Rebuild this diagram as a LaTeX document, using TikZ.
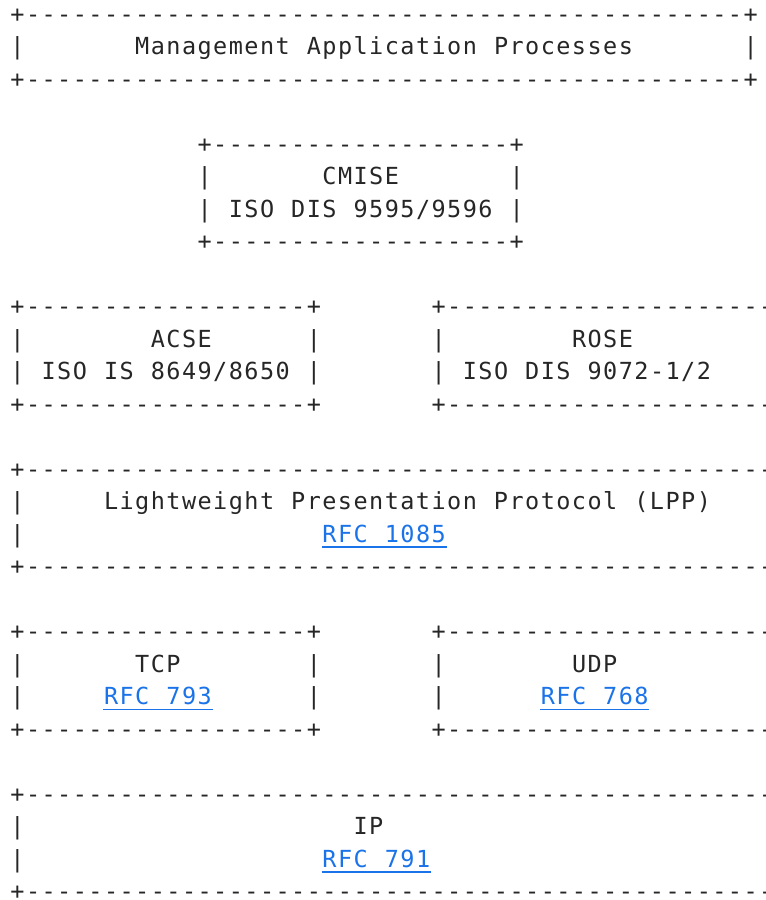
\documentclass[tikz,border=0pt]{standalone}
\usepackage{fontspec}
\setmonofont{DejaVu Sans Mono}
\usepackage{tikz}

\definecolor{ink}{HTML}{262626}
\definecolor{linkblue}{HTML}{1A73E8}
\newlength\cellwd
\setlength\cellwd{15.6pt}
\newcommand\asciifont{\ttfamily\fontsize{23.5pt}{24pt}\selectfont}
% one character per fixed cell
\ExplSyntaxOn
\cs_new:Npn \dashrun #1 { \prg_replicate:nn {#1} {-} }
\cs_new_protected:Npn \gridtext #1
  {
    \str_set:Nx \l_tmpa_str {#1}
    \str_map_inline:Nn \l_tmpa_str
      { \hbox_to_wd:nn { \cellwd } { \hss ##1 \hss } }
  }
\ExplSyntaxOff

\begin{document}
\begin{tikzpicture}[x=15.6pt, y=-32.5pt,
	ascii/.style={anchor=base west, inner sep=0pt, outer sep=0pt, text=ink, font=\asciifont},
	link/.style={ascii, text=linkblue},
	uline/.style={draw=linkblue, line width=1.3pt}]
	\useasboundingbox (-0.622,-0.677) rectangle (48.417,27.015);
	\clip (-0.622,-0.677) rectangle (48.417,27.015);
	
	% boxes
	\node[ascii] (mapTop) at (0,0) {\gridtext{+\dashrun{46}+}};
	\node[ascii] (mapBot) at (0,2) {\gridtext{+\dashrun{46}+}};
	\node[ascii] (mapL) at (0,1) {\gridtext{|}};
	\node[ascii] (mapR) at (47,1) {\gridtext{|}};
	
	\node[ascii] (cmiseTop) at (12,4) {\gridtext{+\dashrun{19}+}};
	\node[ascii] (cmiseBot) at (12,7) {\gridtext{+\dashrun{19}+}};
	\foreach \r in {5,6} {
		\node[ascii] (cmiseL\r) at (12,\r) {\gridtext{|}};
		\node[ascii] (cmiseR\r) at (32,\r) {\gridtext{|}};
	}
	
	\node[ascii] (acseTop) at (0,9) {\gridtext{+\dashrun{18}+}};
	\node[ascii] (acseBot) at (0,12) {\gridtext{+\dashrun{18}+}};
	\node[ascii] (roseTop) at (27,9) {\gridtext{+\dashrun{25}}};
	\node[ascii] (roseBot) at (27,12) {\gridtext{+\dashrun{25}}};
	\foreach \r in {10,11} {
		\node[ascii] (acseL\r) at (0,\r) {\gridtext{|}};
		\node[ascii] (acseR\r) at (19,\r) {\gridtext{|}};
		\node[ascii] (roseL\r) at (27,\r) {\gridtext{|}};
	}
	
	\node[ascii] (lppTop) at (0,14) {\gridtext{+\dashrun{50}}};
	\node[ascii] (lppBot) at (0,17) {\gridtext{+\dashrun{50}}};
	\foreach \r in {15,16}
		\node[ascii] (lppL\r) at (0,\r) {\gridtext{|}};
	
	\node[ascii] (tcpTop) at (0,19) {\gridtext{+\dashrun{18}+}};
	\node[ascii] (tcpBot) at (0,22) {\gridtext{+\dashrun{18}+}};
	\node[ascii] (udpTop) at (27,19) {\gridtext{+\dashrun{25}}};
	\node[ascii] (udpBot) at (27,22) {\gridtext{+\dashrun{25}}};
	\foreach \r in {20,21} {
		\node[ascii] (tcpL\r) at (0,\r) {\gridtext{|}};
		\node[ascii] (tcpR\r) at (19,\r) {\gridtext{|}};
		\node[ascii] (udpL\r) at (27,\r) {\gridtext{|}};
	}
	
	\node[ascii] (ipTop) at (0,24) {\gridtext{+\dashrun{50}}};
	\node[ascii] (ipBot) at (0,27) {\gridtext{+\dashrun{50}}};
	\foreach \r in {25,26}
		\node[ascii] (ipL\r) at (0,\r) {\gridtext{|}};
	
	% labels
	\node[ascii] (map) at (8,1) {\gridtext{Management Application Processes}};
	\node[ascii] (cmise) at (20,5) {\gridtext{CMISE}};
	\node[ascii] (cmiseRef) at (14,6) {\gridtext{ISO DIS 9595/9596}};
	\node[ascii] (acse) at (9,10) {\gridtext{ACSE}};
	\node[ascii] (acseRef) at (2,11) {\gridtext{ISO IS 8649/8650}};
	\node[ascii] (rose) at (36,10) {\gridtext{ROSE}};
	\node[ascii] (roseRef) at (29,11) {\gridtext{ISO DIS 9072-1/2}};
	\node[ascii] (lpp) at (6,15) {\gridtext{Lightweight Presentation Protocol (LPP)}};
	\node[ascii] (tcp) at (8,20) {\gridtext{TCP}};
	\node[ascii] (udp) at (36,20) {\gridtext{UDP}};
	\node[ascii] (ip) at (22,25) {\gridtext{IP}};
	
	% links
	\node[link] (rfcLpp) at (20,16) {\gridtext{RFC 1085}};
	\node[link] (rfcTcp) at (6,21) {\gridtext{RFC 793}};
	\node[link] (rfcUdp) at (34,21) {\gridtext{RFC 768}};
	\node[link] (rfcIp) at (20,26) {\gridtext{RFC 791}};
	\foreach \n in {rfcLpp,rfcTcp,rfcUdp,rfcIp}
		\draw[uline] ([yshift=-5pt]\n.base west) -- ([yshift=-5pt]\n.base east);
\end{tikzpicture}
\end{document}
